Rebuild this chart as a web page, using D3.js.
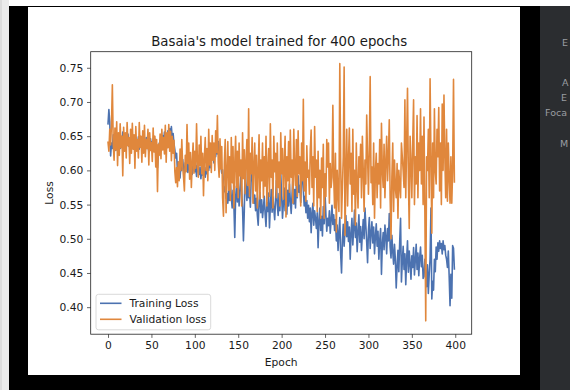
<!DOCTYPE html>
<html>
<head>
<meta charset="utf-8">
<script src="https://cdn.jsdelivr.net/npm/d3@7"></script>
<style>
  html, body { margin: 0; padding: 0; background: #ffffff; }
  svg { display: block; }
  text { font-family: "DejaVu Sans", sans-serif; }
</style>
</head>
<body>
<svg id="chart" width="570" height="390"></svg>
<script>
const chartTitle = "Basaia's model trained for 400 epochs";
const xLabel = "Epoch";
const yLabel = "Loss";
const seriesNames = ["Training Loss", "Validation loss"];
const seriesColors = ["#4c72b0", "#e0873c"];
const xTicks = [0, 50, 100, 150, 200, 250, 300, 350, 400];
const yTicks = [0.40, 0.45, 0.50, 0.55, 0.60, 0.65, 0.70, 0.75];
const sidePanelLabels = ["E", "A", "E", "Foca", "M"];

const trainingLoss = [
  0.668,0.689,0.671,0.621,0.640,0.632,0.652,0.637,0.646,0.629,0.651,0.640,0.634,0.649,0.632,0.645,0.637,0.656,0.636,0.643,
  0.633,0.648,0.641,0.653,0.635,0.646,0.627,0.642,0.650,0.636,0.644,0.630,0.647,0.638,0.634,0.649,0.631,0.642,0.636,0.646,
  0.640,0.629,0.645,0.635,0.648,0.632,0.641,0.627,0.638,0.646,0.634,0.642,0.629,0.640,0.646,0.633,0.618,0.604,0.625,0.640,
  0.641,0.647,0.636,0.651,0.642,0.656,0.646,0.653,0.639,0.658,0.644,0.661,0.650,0.664,0.647,0.654,0.639,0.630,0.618,0.625,
  0.598,0.612,0.604,0.589,0.609,0.600,0.616,0.603,0.595,0.611,0.604,0.613,0.597,0.607,0.616,0.601,0.608,0.594,0.611,0.602,
  0.598,0.607,0.591,0.610,0.600,0.594,0.605,0.588,0.601,0.593,0.607,0.597,0.590,0.604,0.595,0.609,0.600,0.613,0.604,0.616,
  0.619,0.626,0.611,0.631,0.620,0.636,0.624,0.642,0.630,0.616,0.607,0.596,0.601,0.581,0.569,0.576,0.559,0.566,0.552,0.571,
  0.556,0.581,0.561,0.545,0.571,0.550,0.502,0.561,0.577,0.554,0.582,0.548,0.566,0.592,0.571,0.544,0.497,0.541,0.609,0.575,
  0.556,0.583,0.560,0.571,0.546,0.593,0.607,0.575,0.552,0.564,0.541,0.559,0.535,0.520,0.553,0.568,0.538,0.557,0.531,0.545,
  0.562,0.536,0.518,0.553,0.540,0.567,0.516,0.548,0.572,0.539,0.561,0.544,0.528,0.557,0.585,0.550,0.534,0.566,0.541,0.596,
  0.563,0.530,0.552,0.574,0.541,0.559,0.536,0.571,0.548,0.580,0.556,0.537,0.565,0.589,0.551,0.572,0.545,0.583,0.560,0.592,
  0.568,0.578,0.553,0.585,0.604,0.571,0.548,0.562,0.538,0.556,0.530,0.549,0.525,0.545,0.509,0.537,0.552,0.520,0.541,0.530,
  0.515,0.538,0.487,0.526,0.545,0.512,0.533,0.504,0.547,0.522,0.567,0.535,0.511,0.530,0.519,0.541,0.508,0.527,0.549,0.521,
  0.535,0.512,0.528,0.497,0.520,0.483,0.509,0.531,0.478,0.450,0.497,0.521,0.489,0.512,0.534,0.503,0.525,0.496,0.517,0.470,
  0.508,0.530,0.491,0.515,0.542,0.502,0.523,0.481,0.510,0.535,0.495,0.518,0.483,0.507,0.528,0.500,0.545,0.519,0.495,0.465,
  0.512,0.531,0.486,0.508,0.525,0.494,0.517,0.478,0.503,0.522,0.489,0.511,0.470,0.498,0.515,0.448,0.492,0.509,0.484,0.520,
  0.503,0.478,0.515,0.497,0.537,0.488,0.472,0.505,0.481,0.463,0.492,0.470,0.428,0.459,0.483,0.452,0.495,0.530,0.437,0.466,
  0.489,0.455,0.478,0.433,0.470,0.497,0.451,0.482,0.463,0.441,0.475,0.458,0.487,0.447,0.469,0.492,0.455,0.479,0.446,0.472,
  0.488,0.459,0.476,0.442,0.445,0.470,0.451,0.430,0.462,0.420,0.448,0.470,0.545,0.412,0.438,0.425,0.470,0.452,0.488,0.470,
  0.494,0.482,0.497,0.486,0.493,0.478,0.497,0.484,0.490,0.476,0.470,0.458,0.482,0.445,0.402,0.448,0.413,0.490,0.486,0.456
];

const validationLoss = [
  0.641,0.628,0.660,0.637,0.668,0.725,0.640,0.615,0.662,0.630,0.671,0.607,0.655,0.622,0.668,0.633,0.650,0.592,0.663,0.628,
  0.655,0.618,0.670,0.636,0.648,0.610,0.660,0.625,0.669,0.631,0.652,0.603,0.664,0.628,0.645,0.618,0.670,0.634,0.650,0.612,
  0.658,0.625,0.666,0.620,0.645,0.632,0.660,0.608,0.655,0.629,0.641,0.613,0.662,0.627,0.650,0.605,0.645,0.569,0.638,0.622,
  0.653,0.617,0.660,0.630,0.648,0.624,0.666,0.612,0.655,0.633,0.667,0.628,0.657,0.614,0.650,0.625,0.644,0.598,0.582,0.604,
  0.576,0.612,0.585,0.631,0.600,0.645,0.606,0.590,0.570,0.622,0.598,0.667,0.610,0.640,0.587,0.626,0.575,0.611,0.640,0.596,
  0.628,0.603,0.668,0.612,0.590,0.637,0.607,0.650,0.595,0.625,0.563,0.618,0.648,0.600,0.632,0.585,0.660,0.608,0.640,0.597,
  0.651,0.615,0.640,0.600,0.658,0.626,0.680,0.612,0.590,0.646,0.602,0.635,0.560,0.533,0.610,0.645,0.538,0.598,0.642,0.571,
  0.620,0.556,0.648,0.582,0.635,0.545,0.610,0.650,0.575,0.628,0.560,0.640,0.592,0.615,0.548,0.655,0.588,0.630,0.566,0.612,
  0.645,0.578,0.690,0.562,0.625,0.595,0.648,0.552,0.606,0.640,0.570,0.622,0.545,0.600,0.652,0.558,0.615,0.585,0.640,0.560,
  0.620,0.577,0.650,0.548,0.605,0.632,0.562,0.668,0.590,0.615,0.545,0.650,0.598,0.625,0.560,0.640,0.575,0.612,0.548,0.655,
  0.595,0.632,0.558,0.610,0.650,0.532,0.620,0.585,0.642,0.568,0.659,0.590,0.615,0.552,0.660,0.600,0.578,0.645,0.562,0.658,
  0.595,0.620,0.548,0.640,0.585,0.704,0.570,0.612,0.555,0.636,0.590,0.600,0.565,0.630,0.659,0.575,0.620,0.548,0.664,0.590,
  0.615,0.540,0.628,0.560,0.600,0.530,0.618,0.575,0.638,0.530,0.595,0.562,0.645,0.605,0.640,0.552,0.610,0.575,0.590,0.695,
  0.590,0.545,0.625,0.510,0.600,0.568,0.540,0.756,0.612,0.530,0.575,0.620,0.751,0.505,0.590,0.660,0.548,0.615,0.662,0.580,
  0.625,0.540,0.660,0.565,0.600,0.520,0.640,0.578,0.545,0.620,0.590,0.638,0.560,0.650,0.600,0.540,0.615,0.580,0.681,0.620,
  0.565,0.630,0.737,0.582,0.605,0.550,0.640,0.530,0.598,0.625,0.560,0.610,0.580,0.645,0.545,0.669,0.600,0.575,0.638,0.560,
  0.612,0.650,0.585,0.620,0.674,0.560,0.500,0.590,0.640,0.540,0.615,0.575,0.560,0.610,0.530,0.600,0.578,0.560,0.640,0.620,
  0.600,0.575,0.703,0.560,0.640,0.720,0.590,0.515,0.650,0.612,0.560,0.640,0.703,0.550,0.620,0.580,0.680,0.560,0.640,0.600,
  0.690,0.580,0.650,0.550,0.678,0.540,0.380,0.620,0.600,0.660,0.560,0.734,0.620,0.508,0.640,0.560,0.690,0.600,0.580,0.660,
  0.620,0.692,0.570,0.640,0.550,0.697,0.600,0.710,0.620,0.560,0.660,0.555,0.640,0.590,0.552,0.620,0.552,0.600,0.733,0.583
];

const svg = d3.select("#chart");

// window / screenshot surroundings
svg.append("rect").attr("x", 0).attr("y", 0).attr("width", 570).attr("height", 390).attr("fill", "#ffffff");
svg.append("rect").attr("x", 0).attr("y", 0).attr("width", 9).attr("height", 390).attr("fill", "#ebebeb");
svg.append("rect").attr("x", 0).attr("y", 0).attr("width", 2).attr("height", 390).attr("fill", "#dcdcdc");
svg.append("rect").attr("x", 9).attr("y", 6).attr("width", 531).attr("height", 384).attr("fill", "#000000");
svg.append("rect").attr("x", 540).attr("y", 6).attr("width", 30).attr("height", 384).attr("fill", "#2b2d30");
svg.append("rect").attr("x", 28).attr("y", 7).attr("width", 492).attr("height", 368).attr("fill", "#ffffff");

const panelPos = [[562, 46], [562, 86], [561, 101], [545, 116], [560, 147]];
svg.selectAll("text.panel").data(sidePanelLabels).enter().append("text")
  .attr("class", "panel")
  .attr("x", (d, i) => panelPos[i][0]).attr("y", (d, i) => panelPos[i][1])
  .attr("font-size", 9.5).attr("fill", "#9a9da2")
  .text(d => d);

// plot area
const plotLeft = 90.7, plotRight = 471.7, plotTop = 51.7, plotBottom = 334.2;
const x = d3.scaleLinear().domain([-19.95, 418.95]).range([plotLeft, plotRight]);
const y = d3.scaleLinear().domain([0.3605, 0.7735]).range([plotBottom, plotTop]);

const tickLen = 3.7, tickPad = 3.7;

const xAxis = svg.append("g").attr("transform", `translate(0,${plotBottom})`)
  .call(d3.axisBottom(x).tickValues(xTicks).tickFormat(d3.format("d")).tickSize(tickLen).tickPadding(tickPad));
const yAxis = svg.append("g").attr("transform", `translate(${plotLeft},0)`)
  .call(d3.axisLeft(y).tickValues(yTicks).tickFormat(d3.format(".2f")).tickSize(tickLen).tickPadding(tickPad));
[xAxis, yAxis].forEach(g => {
  g.select(".domain").remove();
  g.selectAll(".tick line").attr("stroke", "#222").attr("stroke-width", 0.7);
  g.selectAll(".tick text").attr("font-family", "DejaVu Sans, sans-serif").attr("font-size", 10.7).attr("fill", "#1a1a1a");
});

const lineGen = d3.line().x((d, i) => x(i)).y(d => y(d));
const seriesData = [trainingLoss, validationLoss];

const clip = svg.append("clipPath").attr("id", "plotclip");
clip.append("rect").attr("x", plotLeft).attr("y", plotTop).attr("width", plotRight - plotLeft).attr("height", plotBottom - plotTop);

svg.append("g").attr("clip-path", "url(#plotclip)")
  .selectAll("path.series").data(seriesData).enter().append("path")
  .attr("class", "series")
  .attr("d", d => lineGen(d))
  .attr("fill", "none")
  .attr("stroke", (d, i) => seriesColors[i])
  .attr("stroke-width", 1.6)
  .attr("stroke-linejoin", "round")
  .attr("stroke-linecap", "square");

// frame
svg.append("rect").attr("x", plotLeft).attr("y", plotTop).attr("width", plotRight - plotLeft).attr("height", plotBottom - plotTop)
  .attr("fill", "none").attr("stroke", "#222").attr("stroke-width", 0.8);

// title & labels
svg.append("text").attr("x", (plotLeft + plotRight) / 2 - 2).attr("y", 45.5).attr("text-anchor", "middle")
  .attr("font-size", 13.3).attr("fill", "#1a1a1a").text(chartTitle);
svg.append("text").attr("x", (plotLeft + plotRight) / 2).attr("y", 365.5).attr("text-anchor", "middle")
  .attr("font-size", 10.7).attr("fill", "#1a1a1a").text(xLabel);
svg.append("text").attr("transform", `translate(53,${(plotTop + plotBottom) / 2}) rotate(-90)`).attr("text-anchor", "middle")
  .attr("font-size", 10.7).attr("fill", "#1a1a1a").text(yLabel);

// legend
const legend = svg.append("g");
legend.append("rect").attr("x", 96).attr("y", 294.3).attr("width", 114.7).attr("height", 35.5)
  .attr("rx", 2.5).attr("fill", "#ffffff").attr("fill-opacity", 0.8)
  .attr("stroke", "#d0d0d0").attr("stroke-width", 0.8);
const rows = legend.selectAll("g.row").data(seriesNames).enter().append("g")
  .attr("transform", (d, i) => `translate(0,${303.3 + i * 16})`);
rows.append("line").attr("x1", 100).attr("x2", 121.5).attr("y1", 0).attr("y2", 0)
  .attr("stroke", (d, i) => seriesColors[i]).attr("stroke-width", 1.6);
rows.append("text").attr("x", 129.5).attr("y", 0).attr("dy", "0.35em")
  .attr("font-size", 10.7).attr("fill", "#1a1a1a").text(d => d);
</script>
</body>
</html>
